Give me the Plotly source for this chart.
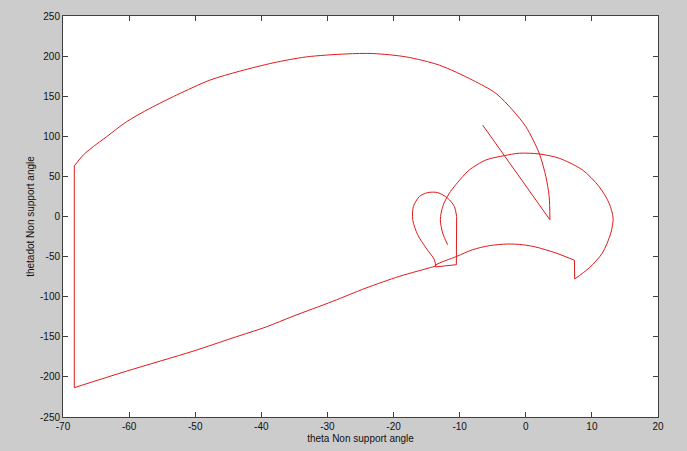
import plotly.graph_objects as go

# Phase portrait trajectory (theta, thetadot), split into its pieces
# straight descent to the V point
seg1_theta = [-6.53, 3.65]
seg1_dot = [114.1, -4.1]
# big upper arc
seg2_theta = [3.65, 3.54, 3.04, 2.03, 0.02, -2.0, -4.51, -8.04, -13.07, -18.1, -23.14,
              -27.16, -33.2, -38.24, -43.27, -47.8, -52.83, -56.86, -60.38, -63.4,
              -65.42, -66.93, -68.29]
seg2_dot = [-4.1, 24.9, 49.7, 78.9, 111.9, 132.7, 153.5, 170.0, 188.7, 199.0, 203.2,
            202.7, 199.0, 191.5, 181.2, 170.0, 151.4, 134.8, 118.2, 99.5,
            87.1, 76.7, 63.1]
# vertical jump
seg3_theta = [-68.29, -68.29]
seg3_dot = [63.1, -213.4]
# long rising line
seg4_theta = [-68.29, -60.38, -50.32, -44.28, -39.24, -35.22, -29.18, -24.14, -19.11,
              -14.08, -13.63]
seg4_dot = [-213.4, -192.8, -167.9, -151.3, -137.6, -124.4, -105.7, -89.1, -74.6,
            -62.9, -61.7]
# small loop (curved part)
seg5_theta = [-13.63, -13.82, -15.08, -16.35, -17.1, -17.0, -16.09, -14.84, -13.33,
              -11.82, -10.8, -10.46]
seg5_dot = [-61.7, -53.9, -39.3, -22.8, -4.1, 12.4, 24.9, 29.8, 29.8,
            22.9, 12.4, 0.0]
# small loop straight closing edges
seg6_theta = [-10.46, -10.5, -13.67]
seg6_dot = [0.0, -60.1, -62.9]
# lower boundary
seg7_theta = [-13.67, -13.6, -10.46, -8.04, -5.52, -2.75, -0.49, 1.53, 4.55, 7.36]
seg7_dot = [-62.9, -60.5, -49.8, -41.4, -36.4, -34.3, -35.2, -38.1, -45.5, -54.5]
# drop
seg8_theta = [7.36, 7.4]
seg8_dot = [-54.5, -77.9]
# big right loop
seg9_theta = [7.4, 9.58, 11.59, 12.86, 13.21, 12.6, 11.09, 8.57, 5.05, 2.03, -0.99,
              -3.25, -6.02, -8.54, -9.55, -11.56, -12.57, -12.92, -12.57, -11.82]
seg9_dot = [-77.9, -64.2, -45.5, -20.7, -2.0, 16.7, 37.3, 58.1, 72.6, 78.0, 78.9,
            75.9, 70.5, 58.1, 49.7, 29.1, 12.4, -4.1, -20.7, -35.2]

x_ticks = [-70, -60, -50, -40, -30, -20, -10, 0, 10, 20]
y_ticks = [-250, -200, -150, -100, -50, 0, 50, 100, 150, 200, 250]

pieces = [
    (seg1_theta, seg1_dot, "linear"),
    (seg2_theta, seg2_dot, "spline"),
    (seg3_theta, seg3_dot, "linear"),
    (seg4_theta, seg4_dot, "spline"),
    (seg5_theta, seg5_dot, "spline"),
    (seg6_theta, seg6_dot, "linear"),
    (seg7_theta, seg7_dot, "spline"),
    (seg8_theta, seg8_dot, "linear"),
    (seg9_theta, seg9_dot, "spline"),
]

fig = go.Figure()
for xs, ys, shape in pieces:
    fig.add_trace(go.Scatter(
        x=xs, y=ys, mode="lines",
        line=dict(color="#e01a1a", width=1, shape=shape, smoothing=0.8),
        showlegend=False, hoverinfo="skip",
    ))

axis_common = dict(
    showgrid=False, zeroline=False, automargin=False,
    showline=True, linecolor="#404040", linewidth=1,
    mirror="allticks", ticks="inside", ticklen=5, tickcolor="#404040",
    tickfont=dict(family="Liberation Sans, Arial, sans-serif", size=10, color="#111"),
)

fig.update_layout(
    width=687, height=451,
    margin=dict(l=63, r=29, t=16, b=34),
    paper_bgcolor="#cccccc",
    plot_bgcolor="white",
    font=dict(family="Liberation Sans, Arial, sans-serif", size=10, color="#111"),
    xaxis=dict(
        range=[-70, 20], tickvals=x_ticks, ticktext=[str(v) for v in x_ticks],
        title=dict(text="theta Non support angle", font=dict(size=10), standoff=3),
        **axis_common,
    ),
    yaxis=dict(
        range=[-250, 250], tickvals=y_ticks, ticktext=[str(v) for v in y_ticks],
        title=dict(text="thetadot Non support angle", font=dict(size=10), standoff=3),
        **axis_common,
    ),
)

fig.write_html("out.html", config={"displayModeBar": False},
               post_script="document.body.style.margin='0';")
